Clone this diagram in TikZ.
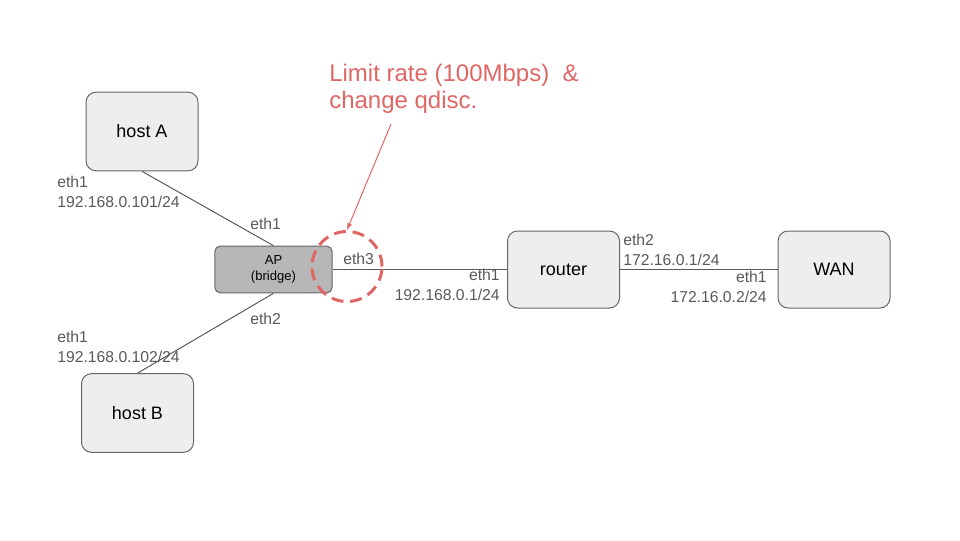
\documentclass[tikz,border=0pt]{standalone}
\usepackage{fontspec}
\setmainfont{Liberation Sans}
\definecolor{boxgray}{HTML}{EEEEEE}
\definecolor{apgray}{HTML}{B7B7B7}
\definecolor{edgegray}{HTML}{666666}
\definecolor{labgray}{HTML}{595959}
\definecolor{notered}{HTML}{E06666}
\tikzset{
  host/.style={draw=edgegray, fill=boxgray, line width=0.75pt, rounded corners=7.5pt,
    minimum width=84pt, minimum height=59pt, font=\fontsize{13.5}{16}\selectfont},
  bridge/.style={draw=edgegray, fill=apgray, line width=0.75pt, rounded corners=4pt,
    minimum width=88pt, minimum height=35pt, align=center, font=\fontsize{9.8}{12}\selectfont},
  iflabel/.style={text=labgray, inner sep=0pt, font=\fontsize{11.8}{15}\selectfont},
  link/.style={draw=labgray, line width=0.75pt}
}
\begin{document}
\begin{tikzpicture}[x=0.75pt,y=-0.75pt]
				\useasboundingbox (0,0) rectangle (960,540);
				% boxes
				\node[host] (hosta) at (142,131.5) {host A};
				\node[host] (hostb) at (137.5,413) {host B};
				\node[bridge] (ap) at (273.5,269.5) {AP\\(bridge)};
				\node[host, minimum height=57.75pt] (router) at (563.5,269.5) {router};
				\node[host, minimum height=57.75pt] (wan) at (834,269.5) {WAN};
				% links
				\draw[link] (hosta.south) -- (ap.north);
				\draw[link] (hostb.north) -- (ap.south);
				\draw[link] (ap.east) -- (router.west);
				\draw[link] (router.east) -- (wan.west);
				% interface labels
				\node[iflabel, align=left, anchor=base west] (ha) at (57,207) {eth1\\192.168.0.101/24};
				\node[iflabel, align=left, anchor=base west] (hb) at (57,362) {eth1\\192.168.0.102/24};
				\node[iflabel, anchor=base west] (apa) at (250,229) {eth1};
				\node[iflabel, anchor=base west] (apb) at (250,324) {eth2};
				\node[iflabel, anchor=base west] (apc) at (343,264) {eth3};
				\node[iflabel, align=right, anchor=base east] (ra) at (500,300) {eth1\\192.168.0.1/24};
				\node[iflabel, align=left, anchor=base west] (rb) at (623,265) {eth2\\172.16.0.1/24};
				\node[iflabel, align=right, anchor=base east] (wa) at (767,302) {eth1\\172.16.0.2/24};
				% note on eth3
				\node[circle, draw=notered, line width=2.25pt, dash pattern=on 9pt off 5pt,
				  minimum size=52.5pt] (ring) at (347,266.5) {};
				\node[text=notered, inner sep=0pt, align=left, anchor=base west,
				  font=\fontsize{18}{20.25}\selectfont] (note) at (329,108) {Limit rate (100Mbps)~~\&\\change qdisc.};
				\coordinate (tail) at (391,124);
				\draw[-latex, notered, line width=0.75pt] (tail) -- (ring.north);
\end{tikzpicture}
\end{document}
